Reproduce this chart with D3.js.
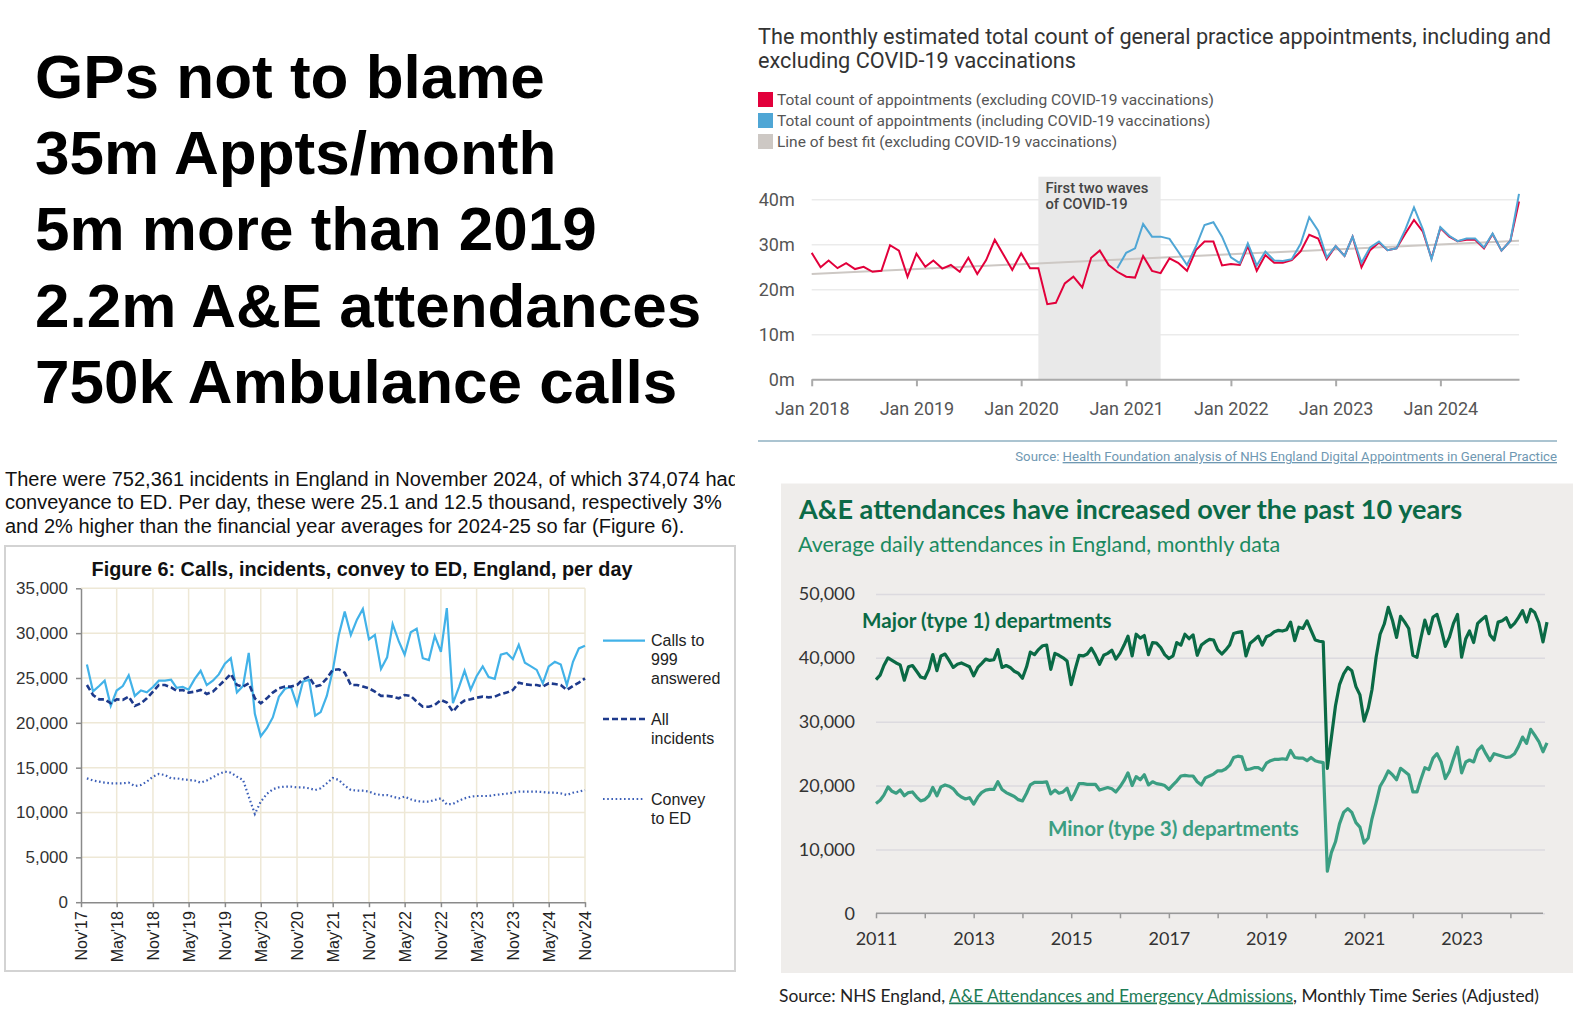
<!DOCTYPE html>
<html>
<head>
<meta charset="utf-8">
<script src="https://cdn.jsdelivr.net/npm/d3@7"></script>
<style>
  body { margin: 0; background: #fff; }
  svg { display: block; }
</style>
</head>
<body>
<svg id="chart" width="1584" height="1031"></svg>
<script>
/* ---------- data ---------- */
const headlines = ['GPs not to blame', '35m Appts/month', '5m more than 2019',
  '2.2m A&E attendances', '750k Ambulance calls'];

// GP appointments, millions, Jan 2018 - Oct 2024
const gpExcl = [
  28.1, 24.9, 26.4, 24.7, 25.8, 24.5, 25.0, 23.9, 24.1, 29.8, 28.6, 22.8,
  27.9, 25.0, 26.4, 24.6, 25.4, 23.9, 27.0, 23.4, 26.5, 31.0, 27.6, 24.3,
  28.0, 24.7, 24.7, 16.7, 17.0, 21.3, 22.8, 20.4, 27.0, 28.6, 25.4, 23.9,
  22.8, 22.6, 27.4, 24.1, 23.6, 26.9, 25.9, 24.1, 28.7, 30.6, 30.6, 25.3,
  25.6, 25.4, 29.6, 24.1, 27.6, 25.9, 25.9, 26.5, 28.4, 32.1, 31.3, 26.7,
  29.6, 27.4, 31.7, 24.9, 28.7, 30.4, 28.7, 29.1, 32.4, 35.4, 32.8, 26.9,
  33.6, 31.7, 30.7, 31.0, 31.0, 29.1, 32.3, 28.6, 30.8, 39.5];
// Dec 2020 - Oct 2024
const gpIncl = [
  24.7,
  28.1, 29.1, 34.5, 31.7, 31.7, 31.2, 28.4, 25.4, 29.5, 34.3, 34.9, 31.7,
  27.1, 25.8, 30.2, 25.3, 28.4, 26.4, 26.3, 26.7, 30.1, 36.0, 33.0, 27.1,
  29.6, 27.4, 31.7, 25.9, 29.3, 30.6, 28.7, 29.1, 33.3, 38.2, 33.3, 26.7,
  33.8, 31.9, 30.7, 31.3, 31.3, 29.3, 32.4, 28.6, 30.8, 41.2];
const gpFit = [23.4, 30.8]; // first and last month
const gpYTicks = [0, 10, 20, 30, 40];
const gpLegend = ['Total count of appointments (excluding COVID-19 vaccinations)',
  'Total count of appointments (including COVID-19 vaccinations)',
  'Line of best fit (excluding COVID-19 vaccinations)'];

// Ambulance, per day, Dec 2017 - Nov 2024
const ambCalls = [
  26500, 23500, 24100, 24700, 21900, 23600, 24100, 25300, 23000, 23600, 23400, 24000,
  24700, 24700, 24800, 23900, 24000, 23700, 24900, 25800, 24200, 24700, 25400, 26600,
  27200, 23400, 24100, 27800, 21000, 18500, 19400, 20600, 22900, 23800, 24000, 22000,
  24600, 24800, 20800, 21200, 23000, 25800, 29800, 32400, 29800, 31500, 32700, 29300,
  29800, 26000, 27300, 31000, 29100, 27600, 30100, 30500, 27200, 27000, 29700, 27900,
  32800, 22200, 24000, 25800, 23700, 25200, 26300, 25100, 24900, 27600, 27800, 27100,
  28700, 26700, 26300, 25900, 24400, 26300, 26800, 26500, 24200, 26800, 28300, 28600];
const ambIncidents = [
  24220, 23100, 22620, 22620, 22180, 22620, 22550, 22920, 21880, 22180, 22730, 23480,
  24220, 24220, 23960, 23590, 23660, 23370, 23480, 23660, 23220, 23480, 24110, 24780,
  25450, 24220, 24040, 24410, 22730, 22180, 22730, 23370, 23850, 24040, 24040, 24220,
  24850, 25150, 24040, 24220, 24960, 25890, 25970, 25600, 24220, 24220, 24040, 23850,
  23480, 23000, 23000, 22920, 22730, 23100, 23000, 22360, 21800, 21800, 21990, 22550,
  22250, 21250, 22060, 22480, 22620, 22800, 22920, 22840, 22920, 23220, 23370, 23660,
  24480, 24300, 24220, 24220, 24040, 24410, 24330, 24220, 23660, 24110, 24480, 24960];
const ambConvey = [
  13810, 13560, 13440, 13330, 13260, 13260, 13260, 13330, 12960, 13070, 13440, 14000,
  14300, 14180, 13810, 13810, 13700, 13630, 13560, 13330, 13560, 13930, 14300, 14560,
  14440, 14000, 13630, 11770, 9840, 11210, 12070, 12590, 12810, 12890, 12890, 12810,
  12810, 12700, 12510, 12700, 13260, 13850, 13630, 13000, 12510, 12450, 12430, 12330,
  12070, 11950, 11950, 11770, 11580, 11770, 11470, 11280, 11210, 11210, 11400, 11580,
  10910, 10950, 11320, 11580, 11770, 11840, 11840, 11840, 11950, 12030, 12100, 12210,
  12330, 12330, 12330, 12330, 12290, 12210, 12210, 12140, 11950, 12210, 12330, 12510];
const ambYTicks = [0, 5000, 10000, 15000, 20000, 25000, 30000, 35000];
const ambParagraph = [
  'There were 752,361 incidents in England in November 2024, of which 374,074 had',
  'conveyance to ED. Per day, these were 25.1 and 12.5 thousand, respectively 3%',
  'and 2% higher than the financial year averages for 2024-25 so far (Figure 6).'];

// A&E average daily attendances, thousands, Jan 2011 - Oct 2024
const aeMajor = [
  36.6, 37.3, 38.8, 40.0, 39.6, 39.2, 38.9, 36.5, 38.6, 38.8, 37.9, 37.0,
  36.8, 38.2, 40.5, 38.0, 40.3, 40.6, 39.6, 38.5, 39.0, 39.2, 38.9, 38.6,
  37.2, 38.5, 39.1, 39.8, 39.6, 39.7, 41.3, 38.5, 38.8, 38.5, 37.9, 37.6,
  36.8, 38.6, 40.9, 40.5, 41.3, 41.9, 42.0, 38.2, 40.7, 40.4, 40.0, 39.5,
  35.8, 38.3, 40.4, 40.3, 40.6, 41.5, 40.4, 39.0, 40.4, 40.7, 41.2, 39.8,
  40.7, 42.0, 43.4, 40.3, 43.7, 43.1, 43.5, 40.5, 42.4, 42.3, 41.6, 40.5,
  39.9, 40.3, 42.4, 42.0, 43.7, 43.0, 43.6, 40.4, 42.0, 42.5, 42.9, 42.8,
  41.3, 40.6, 41.2, 42.0, 43.8, 44.0, 44.1, 40.3, 42.3, 42.8, 43.4, 42.0,
  43.3, 43.6, 44.1, 44.3, 44.2, 44.4, 45.6, 42.7, 44.8, 44.6, 45.8, 44.3,
  42.8, 42.6, 42.5, 22.7, 27.5, 32.5, 35.8, 37.5, 38.5, 38.0, 35.5, 34.2,
  30.1, 32.1, 35.0, 40.1, 43.7, 45.3, 47.9, 45.9, 43.2, 46.5, 45.6, 44.6,
  40.4, 40.1, 43.0, 45.9, 43.8, 46.4, 46.8, 44.5, 41.8, 43.2, 45.4, 46.8,
  40.1, 43.0, 44.2, 42.4, 45.4, 46.0, 46.5, 43.6, 42.8, 45.6, 45.8, 46.3,
  44.8, 45.4, 46.3, 47.4, 45.6, 47.6, 47.1, 45.5, 42.5, 45.6];
const aeMinor = [
  17.2, 17.7, 18.5, 19.8, 19.1, 18.8, 19.3, 18.4, 18.9, 19.0, 18.2, 17.6,
  17.8, 18.4, 19.7, 18.4, 19.8, 20.1, 19.9, 19.5, 18.7, 18.2, 17.9, 18.1,
  17.1, 18.2, 18.9, 19.3, 19.4, 19.4, 20.6, 19.4, 18.9, 18.6, 18.3, 17.8,
  17.6, 18.8, 20.1, 20.5, 20.5, 20.5, 20.6, 18.7, 19.3, 18.8, 19.0, 19.6,
  17.8, 19.0, 20.3, 20.3, 20.2, 20.2, 20.2, 19.3, 19.5, 19.7, 19.5, 19.0,
  19.8, 20.8, 22.0, 20.0, 21.4, 20.9, 21.7, 20.1, 20.6, 20.3, 20.2, 20.0,
  19.4, 20.1, 20.7, 21.5, 21.6, 21.5, 21.5, 20.6, 20.1, 21.2, 21.5, 21.8,
  22.3, 22.3, 22.6, 23.2, 24.4, 24.6, 24.5, 22.5, 22.6, 22.8, 22.8, 22.4,
  23.5, 23.9, 24.1, 24.1, 24.2, 24.1, 25.5, 24.4, 24.3, 24.3, 23.9, 24.4,
  23.9, 23.7, 23.6, 6.6, 9.5, 11.2, 14.0, 15.8, 16.4, 15.8, 14.2, 13.5,
  11.0, 11.8, 14.8, 17.3, 19.9, 21.0, 22.3, 21.7, 20.9, 22.7, 22.2, 21.7,
  19.0, 19.0, 20.9, 22.8, 22.5, 24.3, 25.0, 23.7, 21.1, 22.2, 24.2, 26.0,
  22.0, 23.7, 24.0, 23.7, 25.5, 26.2, 25.0, 23.9, 25.0, 24.8, 24.6, 24.4,
  24.5, 25.0, 26.1, 27.6, 26.6, 28.8, 27.9, 26.9, 25.3, 26.7];
const aeYTicks = [0, 10, 20, 30, 40, 50];

/* ---------- setup ---------- */
const svg = d3.select('#chart');
const SANS = 'Liberation Sans, Arial, sans-serif';
const ROBO = 'Roboto, sans-serif';
const LATO = 'Lato, sans-serif';

/* headline block */
svg.append('g').selectAll('text').data(headlines).join('text')
  .attr('x', 35)
  .attr('y', (d, i) => 98 + i * 76.2)
  .attr('font-family', SANS)
  .attr('font-weight', 700)
  .attr('font-size', 62)
  .attr('fill', '#000')
  .text((d) => d);

/* ---------- GP appointments (top right) ---------- */
const gp = svg.append('g');
gp.selectAll('.gp-title').data(['The monthly estimated total count of general practice appointments, including and',
  'excluding COVID-19 vaccinations']).join('text')
  .attr('x', 758).attr('y', (d, i) => 43.5 + i * 24.5)
  .attr('font-family', ROBO).attr('font-size', 21.7).attr('fill', '#333')
  .text((d) => d);

const gpColors = ['#e2003b', '#4fa6d5', '#cdc8c4'];
const leg = gp.selectAll('.gp-leg').data(gpLegend).join('g')
  .attr('transform', (d, i) => `translate(758,${92 + i * 21})`);
leg.append('rect').attr('width', 15).attr('height', 15).attr('fill', (d, i) => gpColors[i]);
leg.append('text').attr('x', 19).attr('y', 12.5)
  .attr('font-family', ROBO).attr('font-size', 15.5).attr('fill', '#555')
  .text((d) => d);

const gpMonths = d3.timeMonth.range(new Date(2018, 0, 1), new Date(2024, 10, 1));
const gpX = d3.scaleTime().domain([gpMonths[0], gpMonths[gpMonths.length - 1]]).range([811.7, 1519]);
const gpY = d3.scaleLinear().domain([0, 40]).range([379.3, 199.3]);

const gpYAxis = gp.append('g').attr('transform', `translate(${gpX.range()[0]},0)`)
  .call(d3.axisLeft(gpY).tickValues(gpYTicks).tickFormat((d) => `${d}m`)
    .tickSize(-(gpX.range()[1] - gpX.range()[0])).tickPadding(17));
gpYAxis.select('.domain').remove();
gpYAxis.selectAll('line').attr('stroke', '#ebebeb').attr('stroke-width', 1.5);
gpYAxis.selectAll('text').attr('font-family', ROBO).attr('font-size', 18).attr('fill', '#555');

// covid shading, over the gridlines
gp.append('rect')
  .attr('x', gpX(new Date(2020, 2, 1)))
  .attr('y', 176.7)
  .attr('width', gpX(new Date(2021, 4, 1)) - gpX(new Date(2020, 2, 1)))
  .attr('height', gpY(0) - 176.7)
  .attr('fill', '#e9e9e9');
gp.selectAll('.band-lbl').data(['First two waves', 'of COVID-19']).join('text')
  .attr('x', gpX(new Date(2020, 2, 1)) + 7).attr('y', (d, i) => 193 + i * 15.5)
  .attr('font-family', ROBO).attr('font-size', 14.8).attr('font-weight', 500).attr('fill', '#444')
  .text((d) => d);

const gpXAxis = gp.append('g').attr('transform', `translate(0,${gpY(0)})`)
  .call(d3.axisBottom(gpX).ticks(d3.timeYear.every(1)).tickFormat(d3.timeFormat('Jan %Y'))
    .tickSize(7).tickSizeOuter(0).tickPadding(16));
gpXAxis.select('.domain').attr('stroke', '#aaa').attr('stroke-width', 2);
gpXAxis.selectAll('line').attr('stroke', '#aaa').attr('stroke-width', 2);
gpXAxis.selectAll('text').attr('font-family', ROBO).attr('font-size', 18).attr('fill', '#555');

const gpLine = d3.line().x((d) => gpX(d[0])).y((d) => gpY(d[1]));
gp.append('path')
  .datum([[gpMonths[0], gpFit[0]], [gpMonths[gpMonths.length - 1], gpFit[1]]])
  .attr('d', gpLine).attr('fill', 'none').attr('stroke', gpColors[2]).attr('stroke-width', 2);
gp.append('path')
  .datum(gpExcl.map((v, i) => [gpMonths[i], v]))
  .attr('d', gpLine).attr('fill', 'none').attr('stroke', gpColors[0]).attr('stroke-width', 2);
gp.append('path')
  .datum(gpIncl.map((v, i) => [gpMonths[i + gpMonths.length - gpIncl.length], v]))
  .attr('d', gpLine).attr('fill', 'none').attr('stroke', gpColors[1]).attr('stroke-width', 2);

gp.append('line').attr('x1', 758).attr('x2', 1557).attr('y1', 441).attr('y2', 441)
  .attr('stroke', '#8fb1c2').attr('stroke-width', 1.5);
const gpSrc = gp.append('text').attr('x', 1557).attr('y', 461).attr('text-anchor', 'end')
  .attr('font-family', ROBO).attr('font-size', 13.2).attr('fill', '#6f98b2');
gpSrc.append('tspan').text('Source: ');
gpSrc.append('tspan').attr('text-decoration', 'underline')
  .text('Health Foundation analysis of NHS England Digital Appointments in General Practice');

/* ---------- ambulance (bottom left) ---------- */
const amb = svg.append('g');
svg.append('defs').append('clipPath').attr('id', 'ambClip')
  .append('rect').attr('x', 0).attr('y', 450).attr('width', 735).attr('height', 100);
amb.append('g').attr('clip-path', 'url(#ambClip)')
  .selectAll('text').data(ambParagraph).join('text')
  .attr('x', 5).attr('y', (d, i) => 485.5 + i * 23.8)
  .attr('font-family', SANS).attr('font-size', 20).attr('fill', '#111')
  .text((d) => d);

amb.append('rect').attr('x', 5).attr('y', 546).attr('width', 730).attr('height', 425)
  .attr('fill', 'none').attr('stroke', '#d3d3d3').attr('stroke-width', 2);
amb.append('text').attr('x', 362).attr('y', 576).attr('text-anchor', 'middle')
  .attr('font-family', SANS).attr('font-weight', 700).attr('font-size', 19.8).attr('fill', '#111')
  .text('Figure 6: Calls, incidents, convey to ED, England, per day');

const ambMonths = d3.timeMonth.range(new Date(2017, 11, 1), new Date(2024, 11, 1));
const ambX = d3.scaleTime().domain([new Date(2017, 10, 1), new Date(2024, 10, 1)]).range([81, 585]);
const ambY = d3.scaleLinear().domain([0, 35000]).range([902.2, 588.3]);
const ambTicks = d3.timeMonth.range(new Date(2017, 10, 1), new Date(2024, 11, 1), 6);

amb.append('g').selectAll('line').data(ambYTicks.slice(1)).join('line')
  .attr('x1', ambX.range()[0]).attr('x2', ambX.range()[1])
  .attr('y1', (d) => ambY(d)).attr('y2', (d) => ambY(d))
  .attr('stroke', '#eee8d6').attr('stroke-width', 1.5);
amb.append('g').selectAll('line').data(ambTicks.slice(1)).join('line')
  .attr('x1', (d) => ambX(d)).attr('x2', (d) => ambX(d))
  .attr('y1', ambY(0)).attr('y2', ambY(35000))
  .attr('stroke', '#eee8d6').attr('stroke-width', 1.5);

const ambYAxis = amb.append('g').attr('transform', `translate(${ambX.range()[0]},0)`)
  .call(d3.axisLeft(ambY).tickValues(ambYTicks).tickFormat(d3.format(',')).tickSize(5).tickSizeOuter(0).tickPadding(8));
ambYAxis.selectAll('.domain, line').attr('stroke', '#8a8a8a').attr('stroke-width', 1.5);
ambYAxis.selectAll('text').attr('font-family', SANS).attr('font-size', 17).attr('fill', '#333');

const ambXAxis = amb.append('g').attr('transform', `translate(0,${ambY(0)})`)
  .call(d3.axisBottom(ambX).tickValues(ambTicks).tickFormat(d3.timeFormat("%b'%y")).tickSize(5).tickSizeOuter(0));
ambXAxis.selectAll('.domain, line').attr('stroke', '#8a8a8a').attr('stroke-width', 1.5);
ambXAxis.selectAll('text')
  .attr('transform', 'rotate(-90)')
  .attr('text-anchor', 'end')
  .attr('x', -9).attr('y', 0).attr('dy', '0.36em')
  .attr('font-family', SANS).attr('font-size', 16).attr('fill', '#222');

const ambSeries = [
  { values: ambCalls, color: '#42b2e8', dash: null, width: 2.2, label: ['Calls to', '999', 'answered'], ly: 640.7 },
  { values: ambIncidents, color: '#1d3a8c', dash: '6,3', width: 2.6, label: ['All', 'incidents'], ly: 719 },
  { values: ambConvey, color: '#3d60b8', dash: '1.6,2.6', width: 2.2, label: ['Convey', 'to ED'], ly: 799 },
];
const ambLine = d3.line().x((d) => ambX(d[0])).y((d) => ambY(d[1]));
ambSeries.forEach((s) => {
  amb.append('path')
    .datum(s.values.map((v, i) => [ambMonths[i], v]))
    .attr('d', ambLine).attr('fill', 'none')
    .attr('stroke', s.color).attr('stroke-width', s.width)
    .attr('stroke-dasharray', s.dash);
  amb.append('line').attr('x1', 603).attr('x2', 645).attr('y1', s.ly).attr('y2', s.ly)
    .attr('stroke', s.color).attr('stroke-width', s.width).attr('stroke-dasharray', s.dash);
  amb.append('g').selectAll('text').data(s.label).join('text')
    .attr('x', 651).attr('y', (d, i) => s.ly + 5.5 + i * 19)
    .attr('font-family', SANS).attr('font-size', 16).attr('fill', '#222')
    .text((d) => d);
});

/* ---------- A&E (bottom right) ---------- */
const ae = svg.append('g');
ae.append('rect').attr('x', 781).attr('y', 483.5).attr('width', 792).attr('height', 489.5).attr('fill', '#efedeb');
ae.append('text').attr('x', 799).attr('y', 519)
  .attr('font-family', LATO).attr('font-weight', 700).attr('font-size', 27.1).attr('fill', '#0b6a47')
  .text('A&E attendances have increased over the past 10 years');
ae.append('text').attr('x', 798).attr('y', 552)
  .attr('font-family', LATO).attr('font-size', 21.5).attr('fill', '#1b8a5f')
  .text('Average daily attendances in England, monthly data');

const aeMonths = d3.timeMonth.range(new Date(2011, 0, 1), new Date(2024, 10, 1));
const aeX = d3.scaleTime().domain([aeMonths[0], aeMonths[aeMonths.length - 1]]).range([876, 1547]);
const aeY = d3.scaleLinear().domain([0, 50]).range([913.3, 594]);

const aeYAxis = ae.append('g').attr('transform', 'translate(876,0)')
  .call(d3.axisLeft(aeY).tickValues(aeYTicks).tickFormat((d) => d3.format(',')(d * 1000))
    .tickSize(-(1545 - 876)).tickPadding(21));
aeYAxis.select('.domain').remove();
aeYAxis.selectAll('line').attr('stroke', '#dcdadf').attr('stroke-width', 1.5);
aeYAxis.selectAll('text').attr('font-family', LATO).attr('font-size', 18).attr('fill', '#333');

const aeXAxis = ae.append('g').attr('transform', `translate(0,${aeY(0)})`)
  .call(d3.axisBottom(aeX).ticks(d3.timeYear.every(1))
    .tickFormat((d) => (d.getFullYear() % 2 === 1 ? d3.timeFormat('%Y')(d) : ''))
    .tickSize(5).tickSizeOuter(0).tickPadding(14));
aeXAxis.select('.domain').attr('stroke', '#999').attr('stroke-width', 1.5).attr('d', 'M876,0H1543');
aeXAxis.selectAll('line').attr('stroke', '#999').attr('stroke-width', 1.5);
aeXAxis.selectAll('text').attr('font-family', LATO).attr('font-size', 18).attr('fill', '#333');

const aeLine = d3.line().x((d) => aeX(d[0])).y((d) => aeY(d[1]));
[{ values: aeMajor, color: '#0a6a45' }, { values: aeMinor, color: '#3b9e82' }].forEach((s) => {
  ae.append('path')
    .datum(s.values.map((v, i) => [aeMonths[i], v]))
    .attr('d', aeLine).attr('fill', 'none')
    .attr('stroke', s.color).attr('stroke-width', 3.2).attr('stroke-linejoin', 'round');
});
ae.append('text').attr('x', 862).attr('y', 628)
  .attr('font-family', LATO).attr('font-weight', 700).attr('font-size', 20.6).attr('fill', '#0a6a45')
  .text('Major (type 1) departments');
ae.append('text').attr('x', 1048).attr('y', 836)
  .attr('font-family', LATO).attr('font-weight', 700).attr('font-size', 20.6).attr('fill', '#3b9e82')
  .text('Minor (type 3) departments');

const aeSrc = ae.append('text').attr('x', 779).attr('y', 1001.5)
  .attr('font-family', LATO).attr('font-size', 17.4).attr('fill', '#222');
aeSrc.append('tspan').text('Source: NHS England, ');
aeSrc.append('tspan').attr('fill', '#1f7d57').attr('text-decoration', 'underline')
  .text('A&E Attendances and Emergency Admissions');
aeSrc.append('tspan').text(', Monthly Time Series (Adjusted)');
</script>
</body>
</html>
